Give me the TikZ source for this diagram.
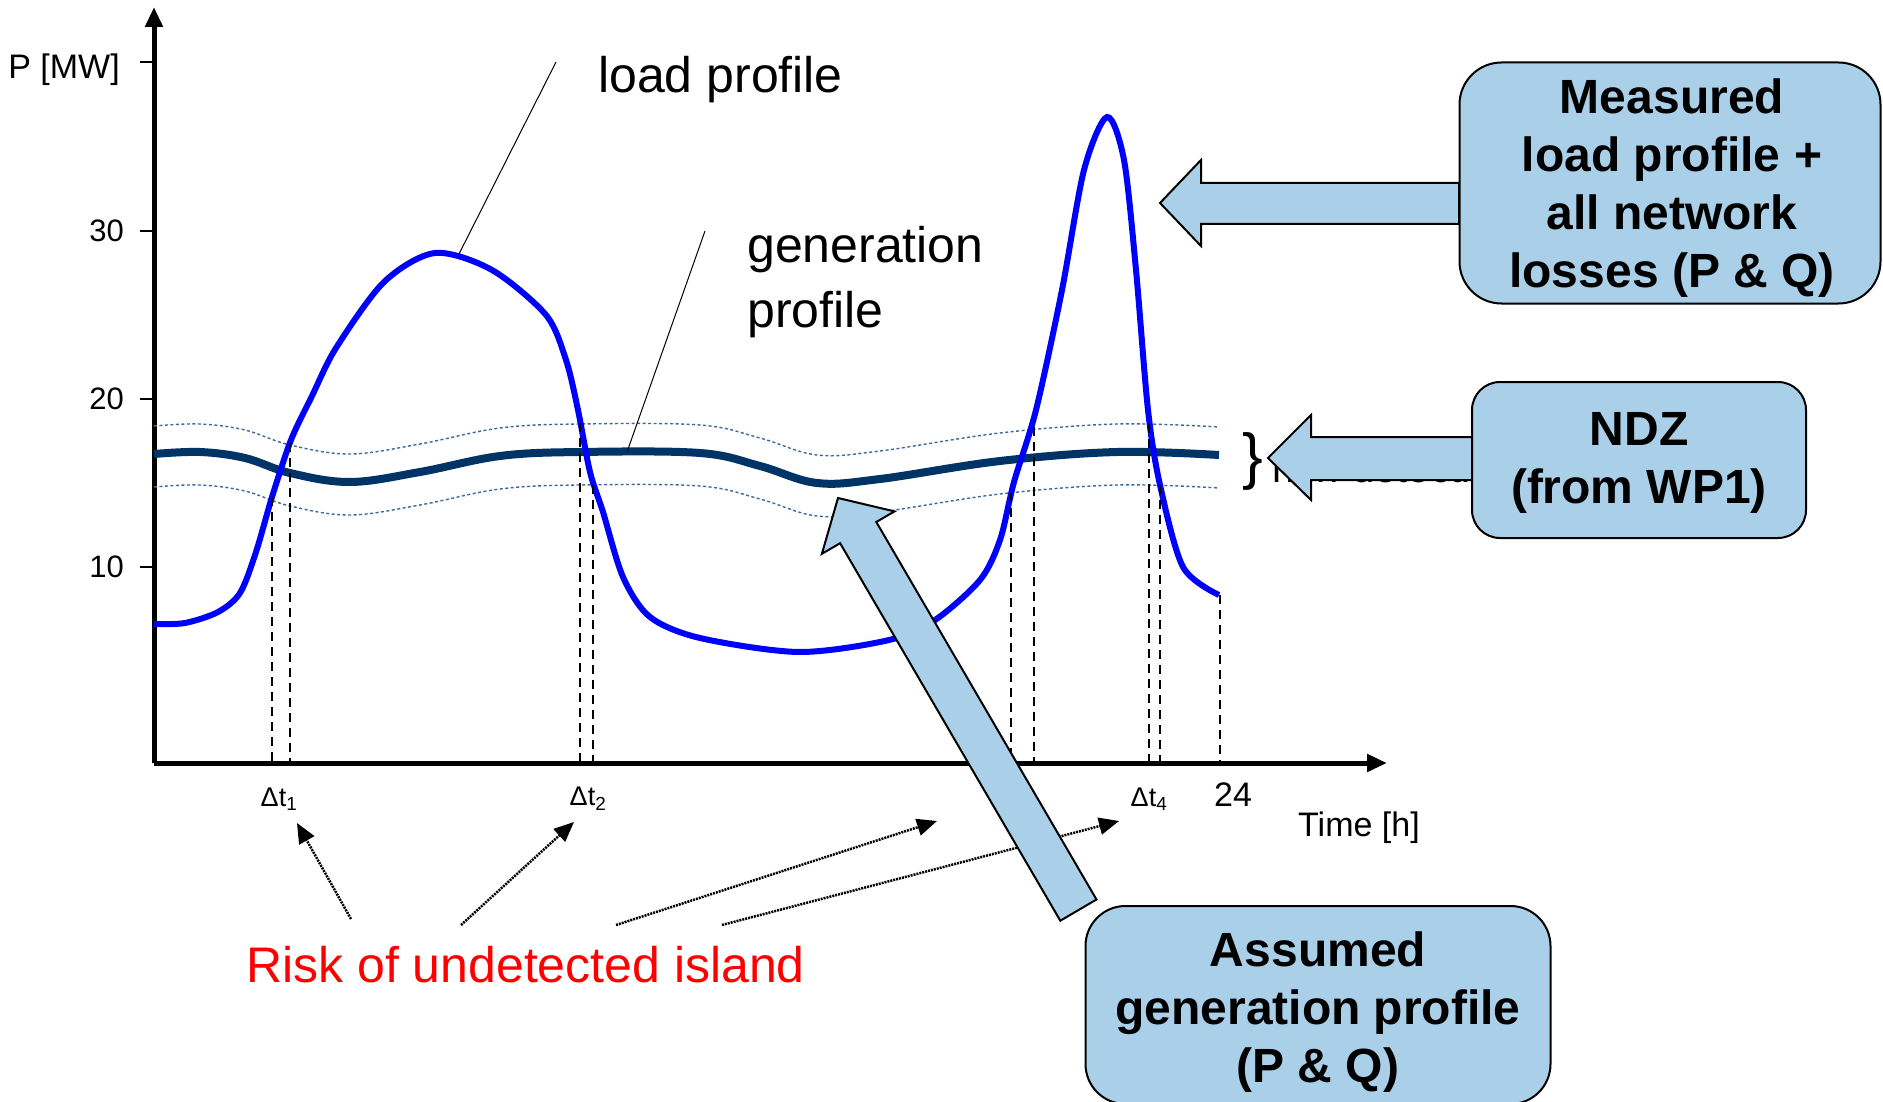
\documentclass[tikz,border=0pt]{standalone}
\usepackage{fontspec}
\setmainfont{Liberation Sans}
\usetikzlibrary{arrows.meta}
\definecolor{loadblue}{HTML}{0000FF}
\definecolor{gennavy}{HTML}{003366}
\definecolor{bandblue}{HTML}{3D6A9C}
\definecolor{boxblue}{HTML}{A9D0E8}
\definecolor{riskred}{HTML}{FF0000}
\begin{document}
\begin{tikzpicture}[x=1pt,y=-1pt,
  axissty/.style={line width=5pt,-{Triangle[length=20pt,width=17pt]}},
  ticksty/.style={line width=2.5pt},
  ticklbl/.style={inner sep=0pt,anchor=east,font=\fontsize{31}{31}\selectfont},
  biglbl/.style={inner sep=0pt,font=\fontsize{50}{65}\selectfont},
  axlbl/.style={inner sep=0pt,font=\fontsize{34}{34}\selectfont},
  dtlbl/.style={inner sep=0pt,font=\fontsize{27}{27}\selectfont},
  loadsty/.style={draw=loadblue,line width=6pt},
  gensty/.style={draw=gennavy,line width=8pt},
  bandsty/.style={draw=bandblue,line width=1.4pt,dash pattern=on 3pt off 2.5pt},
  vdash/.style={line width=2.5pt,dash pattern=on 9pt off 6pt},
  leader/.style={line width=1pt},
  riskarrow/.style={line width=2.5pt,dash pattern=on 2pt off 1pt,-{Triangle[length=20pt,width=17pt]}},
  blockarrow/.style={fill=boxblue,draw=black,line width=2pt,line join=miter},
  boxsty/.style={fill=boxblue,draw=black,line width=2pt,inner sep=0pt},
  boxtxt/.style={inner sep=0pt,align=center,font=\bfseries\fontsize{48}{58}\selectfont}
]
\useasboundingbox (0,0) rectangle (1883,1102);
\fill[white] (0,0) rectangle (1883,1102);

% axes
\coordinate (O) at (154,763);
\coordinate (ytop) at (154,7);
\coordinate (xend) at (1387,763);
\draw[axissty] (O) -- (ytop);
\draw[axissty] (O) -- (xend);

% ticks
\foreach \yy in {62,231,399,567} \draw[ticksty] (140,\yy) -- (154,\yy);
\node[ticklbl,font=\fontsize{34}{34}\selectfont] (pmw) at (120,70) {P [MW]};
\node[ticklbl] (t30) at (124,231) {30};
\node[ticklbl] (t20) at (124,399) {20};
\node[ticklbl] (t10) at (124,567) {10};

% generation band and profile
\def\gencoords{(154,454) (200,452) (245,458) (290,473) (350,482) (420,472) (500,456) (580,452) (700,453) (760,466) (817,483) (880,479) (1000,461) (1117,452) (1219,455)}
\draw[bandsty,yshift=28pt] plot[smooth,tension=0.6] coordinates {\gencoords};
\draw[bandsty,yshift=-33pt] plot[smooth,tension=0.6] coordinates {\gencoords};
\draw[gensty] plot[smooth,tension=0.6] coordinates {\gencoords};

% load profile
\draw[loadsty] plot[smooth,tension=0.5] coordinates {(154,624) (185,623) (218,612) (240,593) (256,552) (272,497) (291,440) (312,396) (336,348) (384,282) (435,253) (492,270) (546,315) (566,360) (578,410) (590,472) (603,512) (623,577) (650,617) (700,638) (799,652) (889,640) (935,620) (980,580) (1000,540) (1014,482) (1036,410) (1062,290) (1084,170) (1107,117) (1124,160) (1136,270) (1148,410) (1160,485) (1183,567) (1219,595)};

% vertical dashed lines
\foreach \xx/\yy in {272/497,290/443,580/423,593/485,1011/493,1034/427,1149/424,1160/485,1220/595}
  \draw[vdash] (\xx,\yy) -- (\xx,761);

% labels with leader lines
\node[biglbl,anchor=west] (loadlbl) at (598,80) {load profile};
\coordinate (loadtip) at (459,254);
\coordinate (loadtop) at (556,62);
\draw[leader] (loadtop) -- (loadtip);
\node[biglbl,anchor=west,align=left] (genlbl) at (747,282) {generation\\profile};
\coordinate (gentop) at (705,231);
\coordinate (gentip) at (627,452);
\draw[leader] (gentop) -- (gentip);

% axis labels
\node[axlbl,anchor=west] (timelbl) at (1298,828) {Time [h]};
\node[axlbl] (h24) at (1233,795) {24};
\node[dtlbl] (dt1) at (279,799) {Δt\textsubscript{1}};
\node[dtlbl] (dt2) at (588,799) {Δt\textsubscript{2}};
\node[dtlbl] (dt3) at (1012,799) {Δt\textsubscript{3}};
\node[dtlbl] (dt4) at (1149,799) {Δt\textsubscript{4}};

% risk text and arrows
\node[biglbl,anchor=west,text=riskred] (risk) at (246,965) {Risk of undetected island};
\coordinate (r1) at (351,919); \coordinate (r1t) at (297,823);
\coordinate (r2) at (461,925); \coordinate (r2t) at (574,822);
\coordinate (r3) at (616,925); \coordinate (r3t) at (937,821);
\coordinate (r4) at (722,925); \coordinate (r4t) at (1119,821);
\draw[riskarrow] (r1) -- (r1t);
\draw[riskarrow] (r2) -- (r2t);
\draw[riskarrow] (r3) -- (r3t);
\draw[riskarrow] (r4) -- (r4t);

% partly hidden NDZ label
\node[inner sep=0pt,font=\fontsize{62}{62}\selectfont] (brace) at (1253,461) {\}};
\node[inner sep=0pt,anchor=base west,font=\fontsize{40}{40}\selectfont] (ndzlbl) at (1272,482) {non-detection zone};

% block arrows
\draw[blockarrow] (1459,183) -- (1201,183) -- (1201,160) -- (1160,203) -- (1201,246) -- (1201,224) -- (1459,224) -- cycle;
\draw[blockarrow] (1472,437) -- (1311,437) -- (1311,415) -- (1268,458) -- (1311,500) -- (1311,480) -- (1472,480) -- cycle;
\draw[blockarrow] (838,498) -- (894.5,511.4) -- (876.3,522.0) -- (1096.5,899.5) -- (1060.3,920.7) -- (840.1,543.2) -- (821.9,553.8) -- cycle;

% boxes
\node[boxsty,minimum width=421pt,minimum height=241pt,rounded corners=42pt] (mbox) at (1670,183) {};
\node[boxtxt] (mtxt) at (1672,188) {Measured\\load profile +\\all network\\losses (P \& Q)};
\node[boxsty,minimum width=334pt,minimum height=156pt,rounded corners=28pt] (nbox) at (1639,460) {};
\node[boxtxt] (ntxt) at (1639,463) {NDZ\\(from WP1)};
\node[boxsty,minimum width=465pt,minimum height=198pt,rounded corners=40pt] (abox) at (1318,1005) {};
\node[boxtxt] (atxt) at (1318,1012) {Assumed\\generation profile\\(P \& Q)};
\end{tikzpicture}
\end{document}
